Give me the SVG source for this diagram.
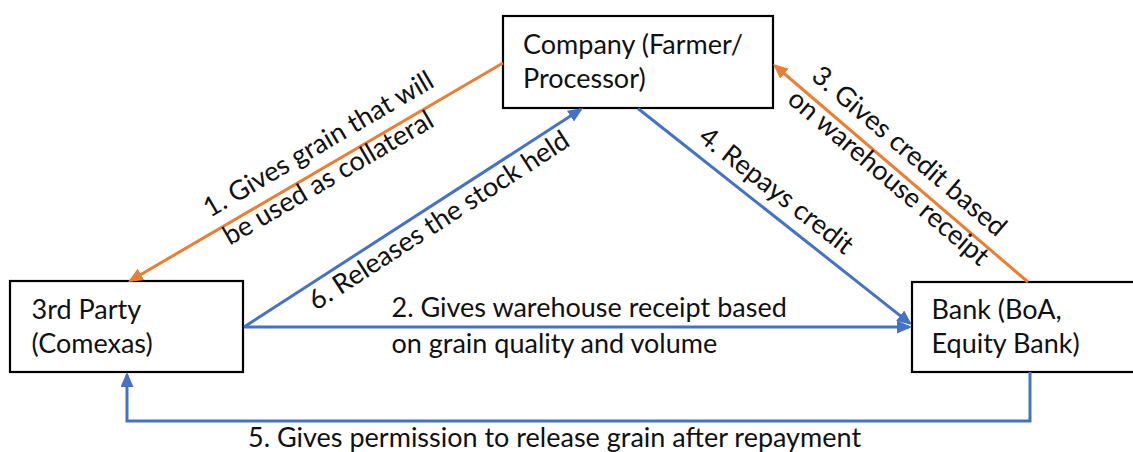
<svg xmlns="http://www.w3.org/2000/svg" width="1133" height="452" viewBox="0 0 1133 452">
  <style>
    .box { fill: #ffffff; stroke: #000000; stroke-width: 2.2; }
    .lbl { font-family: Lato, "Open Sans", "Liberation Sans", sans-serif; font-size: 27px; fill: #111111; }
    .blue { fill: none; stroke: #4472C4; stroke-width: 3; }
    .orange { fill: none; stroke: #ED7D31; stroke-width: 3; }
  </style>
  <defs>
    <marker id="head-blue" markerUnits="userSpaceOnUse" markerWidth="16" markerHeight="14" refX="12" refY="6.5" orient="auto">
      <path d="M0,0 L15,6.5 L0,13 z" fill="#4472C4"/>
    </marker>
    <marker id="head-orange" markerUnits="userSpaceOnUse" markerWidth="16" markerHeight="14" refX="12" refY="6.5" orient="auto">
      <path d="M0,0 L15,6.5 L0,13 z" fill="#ED7D31"/>
    </marker>
  </defs>
  <rect width="1133" height="452" fill="#ffffff"/>

  <!-- parties -->
  <g id="company">
    <rect class="box" x="503" y="16" width="270" height="92"/>
    <text class="lbl" x="523" y="54">Company (Farmer/</text>
    <text class="lbl" x="523" y="88">Processor)</text>
  </g>
  <g id="third-party">
    <rect class="box" x="10" y="281" width="233" height="91"/>
    <text class="lbl" x="31.5" y="319">3rd Party</text>
    <text class="lbl" x="31.5" y="353">(Comexas)</text>
  </g>
  <g id="bank">
    <rect class="box" x="912" y="282" width="223" height="90"/>
    <text class="lbl" x="931.5" y="319">Bank (BoA,</text>
    <text class="lbl" x="931.5" y="353">Equity Bank)</text>
  </g>

  <!-- flows between parties -->
  <g id="connectors">
    <line class="orange" x1="503" y1="63" x2="130.6" y2="280.5" marker-end="url(#head-orange)"/>
    <line class="blue" x1="244" y1="327" x2="580.5" y2="109.6" marker-end="url(#head-blue)"/>
    <line class="blue" x1="638" y1="108.5" x2="909.6" y2="323.1" marker-end="url(#head-blue)"/>
    <line class="orange" x1="1028" y1="282" x2="775.3" y2="66" marker-end="url(#head-orange)"/>
    <line class="blue" x1="244" y1="327" x2="909" y2="327" marker-end="url(#head-blue)"/>
    <path class="blue" d="M1030,372 V421 H127 V375" marker-end="url(#head-blue)"/>
  </g>

  <!-- flow labels -->
  <g id="label-1" transform="translate(210,218) rotate(-30.3)">
    <text class="lbl" x="0" y="0">1. Gives grain that will</text>
    <text class="lbl" x="3" y="34">be used as collateral</text>
  </g>
  <g id="label-2">
    <text class="lbl" x="391.5" y="316.5">2. Gives warehouse receipt based</text>
    <text class="lbl" x="391.5" y="353">on grain quality and volume</text>
  </g>
  <g id="label-3" transform="translate(810,78.3) rotate(40.5)">
    <text class="lbl" x="0" y="0">3. Gives credit based</text>
    <text class="lbl" x="-3" y="33.4">on warehouse receipt</text>
  </g>
  <g id="label-4" transform="translate(697,140) rotate(38)">
    <text class="lbl" x="0" y="0">4. Repays credit</text>
  </g>
  <g id="label-5">
    <text class="lbl" x="248" y="447">5. Gives permission to release grain after repayment</text>
  </g>
  <g id="label-6" transform="translate(316,311) rotate(-33)">
    <text class="lbl" x="0" y="0">6. Releases the stock held</text>
  </g>
</svg>
